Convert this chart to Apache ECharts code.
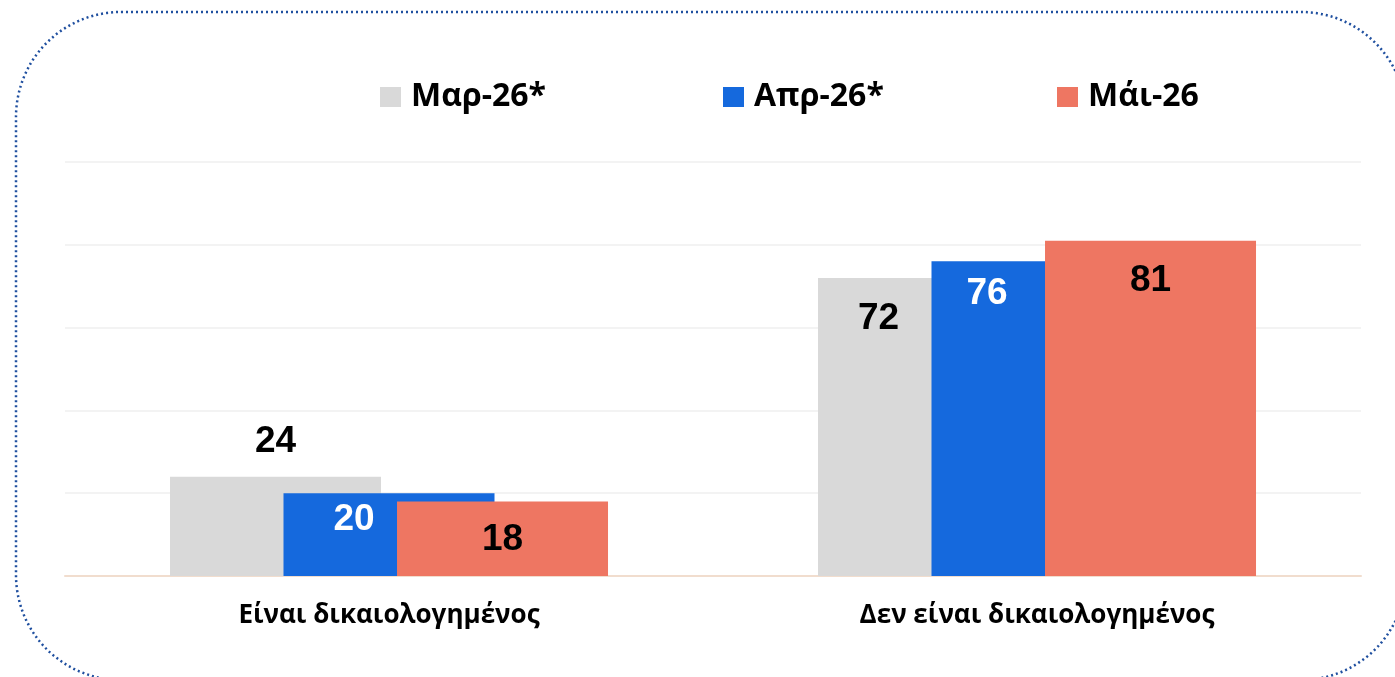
<!DOCTYPE html>
<html>
<head>
<meta charset="utf-8">
<script src="https://cdn.jsdelivr.net/npm/echarts@6/dist/echarts.min.js"></script>
<style>html,body{margin:0;padding:0;background:#fff;}#c{width:1395px;height:677px;}</style>
</head>
<body>
<div id="c"></div>
<script>
const categories = ['Είναι δικαιολογημένος', 'Δεν είναι δικαιολογημένος'];
const seriesNames = ['Μαρ-26*', 'Απρ-26*', 'Μάι-26'];
const marValues = [24, 72];
const aprValues = [20, 76];
const maiValues = [18, 81];
const yTicks = [0, 20, 40, 60, 80, 100];

// label placement (style only): [x offset px from bar centre, y of label centre relative to bar top]
const labelPlace = [
  [[0, -35], [-45, 41]],
  [[-35, 27], [-50, 32]],
  [[0, 38], [0, 40]]
];
const colors = ['#d9d9d9', '#1569dd', '#ee7662'];
const labelColors = ['#000', '#fff', '#000'];
const FONT = 'Open Sans';
const NUMFONT = 'Liberation Sans';

const chart = echarts.init(document.getElementById('c'), null, {renderer: 'canvas'});
const allValues = [marValues, aprValues, maiValues];
const series = allValues.map((vals, si) => ({
  name: seriesNames[si],
  type: 'bar',
  barWidth: 211,
  barGap: '-46.2%',
  itemStyle: {color: colors[si]},
  data: vals.map((v, ci) => ({
    value: v,
    label: {
      show: true,
      position: ['50%', labelPlace[si][ci][1]],
      offset: [labelPlace[si][ci][0], 0],
      align: 'center',
      verticalAlign: 'middle',
      color: labelColors[si],
      fontFamily: NUMFONT,
      fontWeight: 'bold',
      fontSize: 37
    }
  }))
}));

const legendLeft = [380, 723, 1057];
chart.setOption({
  animation: false,
  graphic: [{
    type: 'rect',
    shape: {x: 16, y: 12, width: 1390, height: 668, r: 105},
    style: {fill: 'none', stroke: '#1f4f9f', lineWidth: 2.5, lineDash: [2, 3]},
    silent: true
  }],
  legend: seriesNames.map((n, i) => ({
    data: [n],
    left: legendLeft[i],
    top: 81,
    padding: 0,
    itemWidth: 21,
    itemHeight: 20,
    itemGap: 0,
    icon: 'rect',
    textStyle: {fontFamily: FONT, fontWeight: 'bold', fontSize: 32, color: '#000', padding: [0, 0, 0, 5]}
  })),
  grid: {left: 65, right: 34, top: 162, bottom: 101, containLabel: false},
  xAxis: {
    type: 'category',
    data: categories,
    axisLine: {show: true, lineStyle: {color: '#f1ddce', width: 2}},
    axisTick: {show: false},
    axisLabel: {fontFamily: FONT, fontWeight: 'bold', fontSize: 26, color: '#000', margin: 27}
  },
  yAxis: {
    type: 'value',
    min: yTicks[0],
    max: yTicks[yTicks.length - 1],
    interval: yTicks[1] - yTicks[0],
    axisLabel: {show: false},
    axisLine: {show: false},
    axisTick: {show: false},
    splitLine: {lineStyle: {color: '#efefef', width: 1.5}}
  },
  series: series
});
</script>
</body>
</html>
